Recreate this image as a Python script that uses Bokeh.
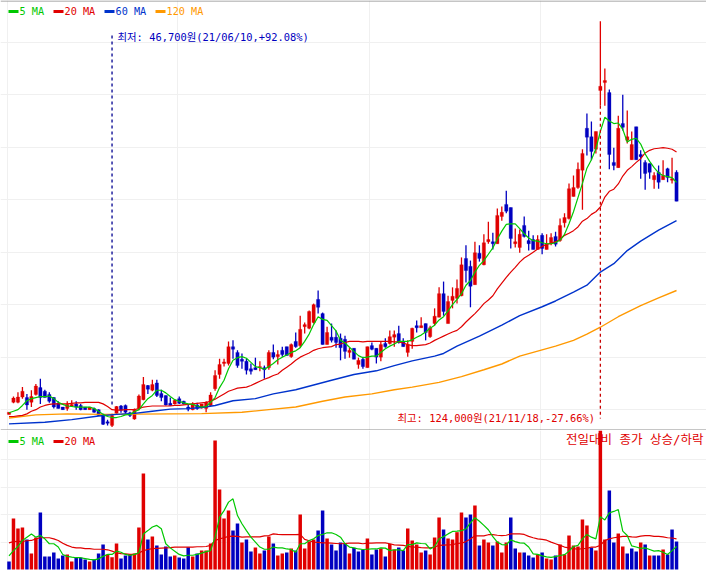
from bokeh.embed import file_html
from bokeh.layouts import column
from bokeh.models import ColumnDataSource, FixedTicker, Grid, Label, Range1d, Span
from bokeh.plotting import figure
from bokeh.resources import INLINE

# prices in thousands of won
opens = [49.1,51.4,51.4,52.4,52.3,51.4,52.9,54.2,53.5,52.9,52.3,51.2,50.5,50.2,50.7,51.1,50.8,50.5,50.0,50.2,
50.0,49.1,47.7,47.0,49.3,50.7,50.8,49.4,48.2,50.2,51.9,54.6,53.7,55.1,53.1,52.7,51.2,51.1,52.1,51.6,
50.5,50.0,50.9,50.3,50.2,50.8,54.0,56.7,58.8,58.8,62.0,60.9,59.6,59.2,57.8,58.0,58.0,58.0,58.0,60.9,
60.1,61.3,62.0,60.1,63.0,62.2,65.8,65.5,66.6,71.0,68.3,62.4,63.8,63.8,63.6,63.4,60.9,61.7,58.6,59.6,
58.0,62.2,61.7,60.0,62.6,62.6,63.8,64.5,63.0,60.9,63.0,66.0,65.6,66.4,63.9,66.4,67.6,72.1,66.4,70.8,
71.2,71.7,78.8,77.3,73.8,79.8,77.6,82.0,82.0,81.6,86.8,89.1,88.5,81.6,80.9,85.1,82.2,82.4,80.5,83.2,
80.5,81.6,83.0,82.2,85.6,86.4,90.6,92.3,95.6,103.6,102.0,99.6,110.8,112.3,110.4,97.1,96.1,104.5,101.3,97.6,
103.9,98.6,97.1,96.9,93.8,95.2,93.8,95.9,93.7,95.2]
highs = [49.5,52.5,53.3,54.3,53.0,53.7,54.9,55.9,53.8,53.3,52.4,51.6,50.5,51.6,51.8,51.6,51.1,50.5,50.5,50.4,
50.1,49.2,48.1,49.2,50.7,50.9,51.0,49.6,50.2,52.9,56.2,54.7,55.7,55.7,53.8,52.7,52.3,51.9,52.5,51.7,
51.1,51.4,51.3,51.1,51.6,53.3,57.5,59.7,59.7,63.0,63.2,61.3,60.7,59.7,58.8,59.9,59.2,58.4,61.3,62.4,
61.3,62.0,62.0,62.6,64.7,67.9,66.6,68.9,70.2,72.7,68.5,65.8,66.4,65.1,64.5,64.1,61.8,61.7,59.9,60.1,
62.0,62.8,61.7,63.0,63.6,65.1,65.1,66.0,63.6,63.2,65.6,67.0,67.6,66.4,66.0,69.3,73.3,74.4,71.7,73.3,
74.8,79.0,81.3,78.4,82.0,81.3,83.4,85.8,83.7,88.3,88.7,91.7,88.5,84.5,84.3,86.8,84.1,83.2,83.2,83.6,
83.4,83.6,83.9,86.4,87.4,93.1,94.6,97.1,99.6,106.4,104.9,103.0,124.0,115.0,111.0,99.9,106.0,110.0,107.0,103.0,
103.9,99.4,97.5,96.9,95.2,96.5,97.5,96.1,98.0,95.6]
lows = [49.1,51.2,51.2,52.1,50.0,50.5,52.7,51.1,52.3,51.3,50.2,50.2,50.0,49.8,50.5,50.0,49.9,50.0,50.0,49.4,
48.8,47.1,47.0,46.7,49.2,49.4,49.2,48.6,48.1,49.9,51.8,53.0,53.5,52.4,51.6,50.8,50.8,51.0,51.1,51.0,
49.7,49.9,50.0,50.2,49.5,50.7,53.6,55.9,58.2,58.4,59.7,58.0,57.8,56.7,56.7,57.6,57.3,55.9,57.6,59.6,
58.6,60.1,60.3,59.9,61.8,61.8,64.5,65.3,66.4,68.3,62.4,62.4,62.8,61.8,59.4,59.7,59.9,59.6,57.8,57.8,
58.0,61.3,58.8,59.2,61.8,62.4,62.0,62.6,62.0,60.1,61.6,64.7,65.6,63.2,63.7,66.0,67.6,67.9,66.4,69.3,
70.2,71.6,74.2,69.5,73.8,78.2,77.5,81.6,80.5,81.6,86.0,87.4,80.7,80.9,79.9,82.8,80.3,80.5,80.5,79.6,
80.5,81.3,81.1,82.0,84.7,86.2,90.6,92.1,88.1,98.4,97.5,98.8,107.9,107.9,95.8,95.6,96.1,103.2,100.7,97.6,
97.6,94.0,91.9,94.0,92.1,92.1,93.8,93.3,93.1,89.7]
closes = [49.5,52.2,52.4,53.5,50.9,52.5,54.5,52.3,52.3,51.6,50.5,50.2,50.0,51.0,51.0,50.5,50.0,50.0,50.5,49.5,
48.9,47.2,47.4,48.9,50.6,49.9,49.5,48.9,49.9,52.6,54.8,53.9,54.8,52.7,52.3,50.9,50.8,51.8,51.2,51.1,
50.1,51.1,50.2,51.1,51.4,52.8,56.5,58.6,59.1,62.0,61.5,58.4,59.2,57.5,57.3,57.6,58.2,57.6,60.9,60.0,
60.5,60.5,60.3,62.4,62.0,65.3,66.2,68.7,70.0,69.5,62.4,64.7,63.2,62.8,61.8,61.1,61.3,59.6,59.4,58.2,
62.0,61.5,60.0,62.4,62.0,63.9,64.3,62.8,62.0,62.4,65.5,65.6,66.0,64.7,65.6,67.8,72.1,68.7,70.6,71.6,
73.1,77.6,76.5,73.5,79.9,78.8,81.8,82.4,81.6,87.0,87.6,87.8,82.6,82.0,83.4,83.0,81.6,80.5,82.4,80.7,
81.5,82.8,81.5,85.1,86.6,92.1,92.3,95.8,98.8,101.9,99.2,103.0,111.6,112.7,98.6,96.5,103.6,103.8,102.0,100.5,
97.6,98.2,95.0,95.2,94.6,93.3,94.6,94.2,94.0,89.7]
ma5 = [49.4,49.7,50.0,50.8,51.7,52.1,52.3,52.5,52.5,52.6,52.1,51.4,51.0,50.7,50.6,50.5,50.5,50.5,50.5,50.2,
49.7,49.1,48.7,48.5,48.5,48.7,49.0,49.1,49.6,50.0,51.1,52.1,52.7,53.7,53.7,53.2,52.5,51.9,51.6,51.3,
51.1,51.0,50.7,50.5,50.6,51.4,52.3,54.2,55.6,57.8,59.4,59.9,60.1,59.8,59.0,58.2,58.0,57.7,58.2,58.8,
59.5,60.0,60.4,60.9,61.2,61.8,63.0,64.4,66.2,67.7,67.2,67.0,66.0,65.0,63.2,62.7,61.9,61.1,60.3,59.9,
60.0,60.2,60.2,60.9,61.6,62.1,62.5,63.0,63.0,63.0,63.3,63.8,64.2,64.8,65.5,66.1,67.1,67.7,68.8,70.0,
71.0,72.1,73.7,74.6,76.2,77.5,78.4,79.6,80.8,82.5,84.0,85.3,85.4,85.4,84.5,83.5,82.7,82.2,82.1,81.8,
81.6,81.6,81.8,82.3,83.4,85.4,87.7,90.4,93.1,96.0,97.6,99.7,103.0,105.7,105.0,104.5,104.6,103.4,101.0,101.5,
101.7,100.6,98.7,97.3,96.1,95.1,94.6,94.4,94.2,93.3]
ma20 = [48.7,48.7,48.8,48.9,49.2,49.7,50.0,50.5,50.8,51.0,51.1,51.1,51.1,51.1,51.2,51.3,51.3,51.4,51.4,51.4,
51.4,51.1,50.6,50.0,49.9,49.9,50.0,50.0,50.0,50.2,50.5,50.6,50.7,50.7,50.7,50.7,50.7,50.8,50.8,50.9,
51.0,51.1,51.2,51.3,51.4,51.6,52.0,52.5,53.0,53.5,53.8,54.1,54.2,54.3,54.6,55.0,55.4,55.8,56.1,56.5,
56.8,57.5,58.1,58.7,59.4,60.0,60.4,60.8,61.3,61.6,61.8,61.9,62.0,62.4,62.5,62.8,63.0,63.0,63.0,62.9,
63.0,63.0,63.0,63.0,63.0,63.0,62.9,62.9,62.7,62.4,62.2,62.2,62.3,62.4,62.7,63.2,63.6,64.0,64.4,64.8,
65.1,65.8,66.7,67.5,68.3,69.2,70.2,70.9,71.7,73.0,74.1,75.2,76.2,77.1,78.1,78.9,79.4,80.0,80.6,81.1,
81.5,81.7,82.0,82.4,83.2,83.6,84.1,84.8,85.9,86.4,87.2,87.7,88.6,90.5,91.6,92.0,93.0,94.5,95.6,96.3,
97.1,97.8,98.9,99.4,99.7,99.8,99.9,99.8,99.6,99.1]
ma60_idx = [0,8,14,20,24,28,32,36,40,43,46,50,55,59,64,68,72,77,82,86,90,95,97,100,105,110,114,119,122,126,129,132,135,138,141,145,149]
ma60 = [47.3,47.6,48.1,48.8,49.1,49.3,49.7,50.1,50.2,50.4,50.8,51.7,52.1,53.0,53.8,54.7,55.6,56.7,57.4,58.4,59.3,60.2,60.7,62.1,64.0,66.1,67.9,69.6,70.7,72.4,73.7,76.2,77.8,80.3,82.1,84.2,86.0]
ma120_idx = [0,6,13,21,28,36,43,52,58,64,70,75,81,86,90,96,101,106,110,114,119,122,126,129,132,136,141,145,149]
ma120 = [48.4,49.0,49.2,49.1,49.15,49.2,49.25,49.5,50.0,50.5,51.6,52.4,53.0,53.8,54.3,55.2,56.3,57.6,58.7,60.2,61.4,62.1,63.2,64.4,65.7,67.7,69.8,71.3,72.7]

# volume in thousands of shares
volume = [292,1862,1497,1533,1095,584,1168,2081,475,475,621,402,511,548,292,438,438,365,292,365,
584,913,548,450,949,402,511,548,584,1533,3505,1095,1205,876,548,840,475,511,438,402,
815,475,584,694,694,949,4710,2921,1862,2154,1424,1679,986,1095,657,803,584,694,1205,949,
511,584,621,767,694,2008,767,1022,1095,1424,2154,1132,913,694,986,949,584,791,657,730,
1132,548,730,767,475,937,730,803,694,1497,1059,913,621,694,548,1168,1899,1460,1132,1095,
1363,2081,1899,2008,2337,876,1095,986,876,1022,621,986,1899,767,621,621,511,438,548,621,
402,365,511,913,548,1241,876,840,1826,1607,803,694,5075,1095,2884,986,1314,840,584,767,
657,986,913,511,511,511,730,548,1460,1022]
vol_dir = "BRRRBRRBBBBBBRRBBBRBBBRRRBBBRRRBRBBBBRBBBRBRRRRRRRBBRBBRRBRBRRBRBRRRRBBRBBBBRBBBRBBRBRRBBRRRRBRRRBRRRRBBRBRRBRRRBBRBBBRBRRBRRRRRRRBRRRBBRRBBBRBRBBRBBB"
vol_ma5 = [500,690,840,1060,1180,1300,1180,1240,1120,940,940,820,550,480,450,430,430,400,370,350,
390,480,550,550,670,630,550,510,550,610,1300,1420,1550,1610,1490,940,790,670,550,500,
520,520,550,600,650,690,1180,1910,2150,2460,2580,1970,1670,1420,1180,1000,820,740,740,820,
790,790,750,730,630,940,940,1060,1120,1240,1280,1340,1340,1280,1180,940,820,790,750,730,
740,750,750,790,780,690,720,720,690,910,910,970,950,940,750,840,1120,1200,1300,1390,
1400,1420,1480,1700,1890,1760,1610,1450,1200,1000,910,900,1080,1020,970,960,820,570,550,500,
460,440,470,510,540,670,840,880,1120,1280,1180,1120,1930,1810,2070,2120,2190,1400,1240,860,
820,770,790,730,670,690,630,550,690,840]
vol_ma20 = [970,1020,1030,1030,1050,1060,1120,1160,1160,1160,1120,1060,960,880,820,790,790,760,760,740,
740,740,720,670,610,580,570,550,550,600,690,730,760,770,780,790,800,820,820,820,
820,820,830,830,840,880,1060,1120,1160,1210,1220,1210,1180,1190,1190,1190,1190,1230,1240,1300,
1280,1270,1270,1270,1270,1280,1100,1050,1000,990,970,970,960,950,940,950,960,960,960,940,
960,960,970,970,970,940,900,890,880,850,820,820,800,790,790,820,880,890,900,910,
950,960,1020,1110,1230,1230,1230,1270,1270,1250,1240,1250,1300,1300,1300,1280,1210,1160,1120,1100,
1070,1000,940,880,820,790,760,740,760,770,820,820,880,1060,1120,1160,1180,1210,1210,1190,
1180,1220,1240,1240,1210,1210,1190,1160,1150,1120]

low_idx, low_price, high_idx, high_price = 23, 46.7, 132, 124.0
low_text = "최저: 46,700원(21/06/10,+92.08%)"
high_text = "최고: 124,000원(21/11/18,-27.66%)"
side_text = "전일대비 종가 상승/하락"
price_grid = [50, 60, 70, 80, 90, 100, 110, 120]
vol_grid = [1000, 2000, 3000, 4000]
month_grid = [-0.33, 37.6, 80.5, 118.6]

RED, BLUE, GREEN, LINEBLUE, ORANGE = "#e00000", "#0000c0", "#00c800", "#0033cc", "#ff9900"
GRID, SEP = "#f0f0f0", "#8c8c8c"
MONO = "'DejaVu Sans Mono','Noto Sans CJK KR'"
W = 706
XL, XR = -1.897, 155.69
PH, VH = 430, 140
Y0, Y1 = 46.03, 127.94
V0, V1 = -36.5, 5075

def xd(px):
    return XL + (XR - XL) * px / W
def yp(py):
    return Y1 - (Y1 - Y0) * py / PH
def yv(py):
    return V1 - (V1 - V0) * py / VH

def base(h, y0, y1, ys, xs):
    p = figure(width=W, height=h, x_range=Range1d(XL, XR), y_range=Range1d(y0, y1),
               output_backend="svg", toolbar_location=None,
               x_axis_location=None, y_axis_location=None,
               min_border=0, min_border_left=0, min_border_right=0, min_border_top=0, min_border_bottom=0,
               outline_line_color=None, background_fill_color="white", border_fill_color="white")
    p.grid.visible = False
    p.add_layout(Grid(dimension=1, ticker=FixedTicker(ticks=ys), grid_line_color=GRID, grid_line_width=1))
    p.add_layout(Grid(dimension=0, ticker=FixedTicker(ticks=xs), grid_line_color=GRID, grid_line_width=1))
    return p

idx = list(range(len(closes)))

# ---------- price panel
p = base(PH, Y0, Y1, price_grid, month_grid)
p.add_layout(Span(location=yp(0.5), dimension="width", line_color=SEP, line_width=1))
p.add_layout(Span(location=yp(429.5), dimension="width", line_color=SEP, line_width=1))

cc = [RED if c >= o else BLUE for o, c in zip(opens, closes)]
src = ColumnDataSource(dict(x=idx, o=opens, h=highs, l=lows, c=closes, col=cc,
                            top=[max(a, b) for a, b in zip(opens, closes)],
                            bot=[min(a, b) for a, b in zip(opens, closes)]))
p.segment("x", "l", "x", "h", source=src, line_color="col", line_width=1.3)
p.vbar("x", 0.74, "bot", "top", source=src, fill_color="col", line_color="col", line_width=0.3)

p.line(ma120_idx, ma120, line_color=ORANGE, line_width=1.4)
p.line(ma60_idx, ma60, line_color=LINEBLUE, line_width=1.4)
p.line(idx, ma20, line_color=RED, line_width=1.2)
p.line(idx, ma5, line_color=GREEN, line_width=1.2)

p.line([low_idx, low_idx], [yp(35), yp(405)], line_color="#000090", line_width=1.3, line_dash=[3, 3])
p.line([high_idx, high_idx], [lows[high_idx], yp(418)], line_color="#c80000", line_width=1.3, line_dash=[3, 3])

p.add_layout(Label(x=xd(117), y=yp(36), text=low_text, text_font=MONO, text_font_size="10.4px",
                   text_color=BLUE, text_baseline="middle"))
p.add_layout(Label(x=xd(397), y=yp(417), text=high_text, text_font=MONO, text_font_size="10.4px",
                   text_color=RED, text_baseline="middle"))

def legend(fig, ydata, entries):
    for name, col, sx0, tx in entries:
        fig.quad(left=[xd(sx0)], right=[xd(sx0 + 10)], bottom=[ydata(12.5)], top=[ydata(9.5)],
                 fill_color=col, line_color=None)
        fig.add_layout(Label(x=xd(tx), y=ydata(11), text=name, text_font=MONO, text_font_size="10.2px",
                             text_color=col, text_baseline="middle"))

legend(p, yp, [("5 MA", GREEN, 8, 19), ("20 MA", RED, 53, 64), ("60 MA", LINEBLUE, 104, 115), ("120 MA", ORANGE, 155, 166)])

# ---------- volume panel
v = base(VH, V0, V1, vol_grid, month_grid)
vc = [RED if d == "R" else BLUE for d in vol_dir]
v.vbar(idx, 0.78, 0, volume, fill_color=vc, line_color=None)
v.line(idx, vol_ma20, line_color=RED, line_width=1.2)
v.line(idx, vol_ma5, line_color=GREEN, line_width=1.2)
legend(v, yv, [("5 MA", GREEN, 8, 19), ("20 MA", RED, 53, 64)])
v.add_layout(Label(x=xd(703), y=yv(8.5), text=side_text, text_font=MONO, text_font_size="12.5px",
                   text_color=RED, text_baseline="middle", text_align="right"))

page = column(p, v, spacing=0)
open("out.html", "w").write(file_html(page, INLINE))
